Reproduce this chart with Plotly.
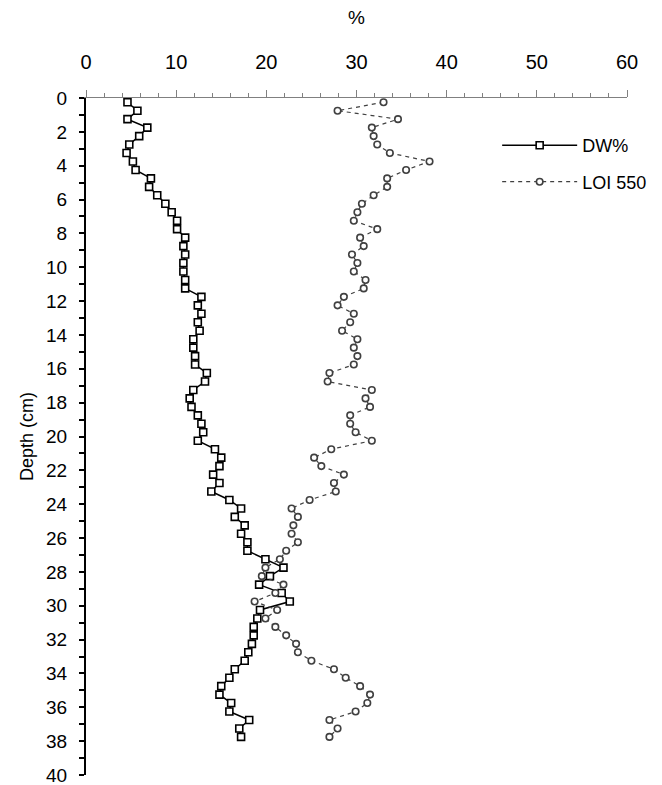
import plotly.graph_objects as go

depth = [0.25 + 0.5 * i for i in range(76)]

dw = [4.6, 5.7, 4.6, 6.8, 5.9, 4.8, 4.5, 5.2, 5.5, 7.2,
      7.0, 7.9, 8.8, 9.5, 10.1, 10.1, 11.0, 10.8, 11.0, 10.8,
      10.8, 11.0, 11.0, 12.8, 12.4, 12.8, 12.4, 12.6, 11.9, 11.9,
      12.1, 12.1, 13.4, 13.2, 11.9, 11.5, 11.7, 12.4, 12.8, 13.0,
      12.4, 14.3, 15.0, 14.8, 14.1, 14.8, 13.9, 15.9, 17.2, 16.5,
      17.6, 17.2, 17.9, 17.9, 19.9, 21.9, 20.4, 19.2, 21.7, 22.6,
      19.3, 19.0, 18.6, 18.6, 18.4, 18.0, 17.6, 16.5, 15.9, 15.0,
      14.8, 16.1, 15.9, 18.1, 17.0, 17.2]

loi = [33.0, 27.9, 34.6, 31.7, 31.9, 32.3, 33.7, 38.1, 35.5, 33.4,
       33.4, 31.9, 30.6, 30.1, 29.7, 32.3, 30.4, 30.8, 29.5, 30.1,
       29.7, 31.0, 30.8, 28.6, 27.9, 29.7, 29.3, 28.4, 30.1, 29.7,
       30.1, 29.7, 27.0, 26.8, 31.7, 31.0, 31.5, 29.3, 29.3, 29.9,
       31.7, 27.2, 25.3, 26.1, 28.6, 27.5, 27.7, 24.8, 22.8, 23.5,
       23.0, 22.8, 23.5, 22.2, 21.5, 19.9, 19.5, 21.9, 21.0, 18.7,
       21.2, 19.9, 21.0, 22.2, 23.3, 23.5, 25.0, 27.5, 28.8, 30.4,
       31.5, 31.2, 29.9, 27.0, 27.9, 27.0]

FONT = "Liberation Sans, Arial, sans-serif"

fig = go.Figure()
fig.add_trace(go.Scatter(
    x=dw, y=depth, name="DW%", mode="lines+markers", legendgroup="a",
    line=dict(color="black", width=1.5),
    marker=dict(symbol="square", size=7, color="white",
                line=dict(color="black", width=1.6)),
))
fig.add_trace(go.Scatter(
    x=loi, y=depth, name="LOI 550", mode="lines+markers", legendgroup="b",
    line=dict(color="#404040", width=1.2, dash="4px,4px"),
    marker=dict(symbol="circle", size=6.5, color="white",
                line=dict(color="#404040", width=1.6)),
))

fig.update_layout(
    width=662, height=785,
    margin=dict(l=86, r=31, t=98, b=10),
    paper_bgcolor="white", plot_bgcolor="white",
    font=dict(family=FONT, size=18, color="black"),
    showlegend=True,
    legend=dict(x=0.76, y=0.957, xanchor="left", yanchor="top",
                itemwidth=75, tracegroupgap=10,
                font=dict(family=FONT, size=18, color="black"),
                bgcolor="rgba(0,0,0,0)"),
    xaxis=dict(
        side="top", range=[0, 60], dtick=10, tick0=0, automargin=False,
        showgrid=False, zeroline=False,
        showline=True, linecolor="#808080", linewidth=1,
        ticks="outside", ticklen=7, tickcolor="#808080", tickwidth=1,
        ticklabelstandoff=13,
        minor=dict(dtick=2, ticks="outside", ticklen=4,
                   tickcolor="#808080", tickwidth=1, showgrid=False),
        tickfont=dict(size=20),
        title=dict(text="%", font=dict(size=19), standoff=21),
    ),
    yaxis=dict(
        range=[40, 0], dtick=2, tick0=0, automargin=False,
        showgrid=False, zeroline=False,
        showline=True, linecolor="black", linewidth=2,
        ticks="outside", ticklen=5, tickcolor="black", tickwidth=1.5,
        ticklabelstandoff=8, ticklabeloverflow="allow",
        minor=dict(dtick=1, ticks="outside", ticklen=5,
                   tickcolor="black", tickwidth=1.5, showgrid=False),
        tickfont=dict(size=19),
        title=dict(text="Depth (cm)", font=dict(size=18), standoff=8),
    ),
)

fig.write_html("out.html")
